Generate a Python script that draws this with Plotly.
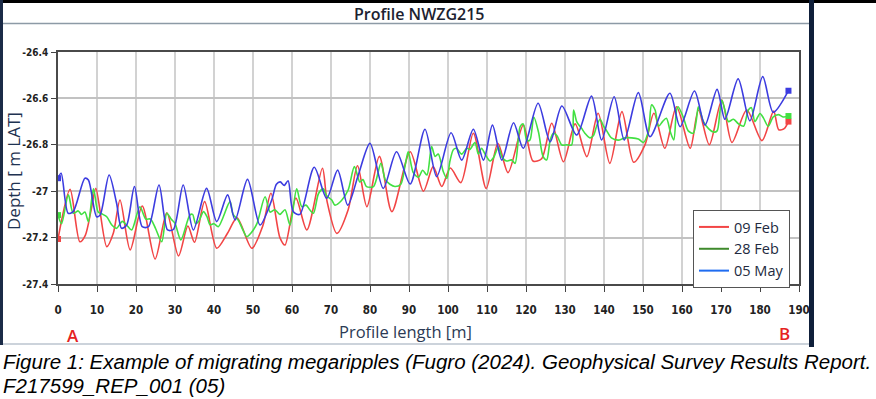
import plotly.graph_objects as go

# ---------------- data ----------------
blue_x = [0, 0.8, 2.6, 3.9, 6.9, 7.8, 9.9, 10.8, 13.1, 15.0, 16.3, 17.6, 19.6, 21.6, 23.2, 25.9, 28.1, 29.6,
          32.1, 34.7, 38.1, 40.7, 43.5, 45.4, 48.6, 51.8, 54.8, 56.0, 57.0, 58.0, 59.0, 60.3, 62.0, 65.7,
          68.9, 71.7, 74.3, 77.0, 80.0, 83.4, 86.8, 90.3, 94.1, 97.1, 100.8, 103.5, 106.5, 109.1, 111.4,
          113.8, 116.8, 119.3, 123.1, 126.2, 129.2, 133.0, 136.8, 139.4, 142.6, 145.2, 148.8, 151.8, 156.9,
          159.5, 163.2, 165.9, 169.0, 171.0, 174.4, 177.4, 180.7, 183.4, 187.3]
blue_y = [-26.944, -26.923, -27.095, -27.088, -26.944, -26.952, -27.110, -27.103, -26.930, -27.050, -27.160,
          -27.146, -26.980, -27.153, -27.153, -26.973, -27.167, -27.165, -26.973, -27.167, -26.988, -27.131,
          -27.016, -27.124, -26.949, -27.146, -27.038, -26.970, -26.960, -26.975, -26.955, -27.088, -27.100,
          -26.897, -27.031, -26.909, -27.060, -26.930, -26.794, -26.988, -26.830, -26.969, -26.733, -26.937,
          -26.748, -26.866, -26.733, -26.866, -26.715, -26.866, -26.705, -26.815, -26.621, -26.787, -26.633,
          -26.758, -26.590, -26.779, -26.593, -26.779, -26.575, -26.765, -26.578, -26.722, -26.568, -26.715,
          -26.561, -26.690, -26.516, -26.697, -26.506, -26.660, -26.567]

red_x = [0, 3.1, 5.6, 7.0, 8.5, 9.7, 12.5, 14.2, 15.9, 18.5, 21.6, 24.9, 27.9, 30.9, 33.3, 35.0, 37.6, 40.7,
         43.5, 45.9, 49.7, 52.5, 54.6, 56.9, 58.2, 61.0, 63.8, 67.8, 69.0, 71.5, 74.4, 76.8, 79.2, 82.4, 85.6,
         90.3, 93.7, 96.2, 98.4, 100.6, 103.3, 106.5, 109.8, 112.8, 115.4, 119.3, 121.8, 124.0, 126.6, 129.6,
         132.6, 135.6, 138.5, 141.5, 144.6, 147.6, 150.5, 152.8, 155.6, 158.6, 162.1, 164.2, 167.0, 170.2,
         172.8, 176.6, 180.5, 183.5, 184.8, 186.2, 187.3]
red_y = [-27.206, -26.992, -27.218, -27.190, -27.080, -26.988, -27.239, -27.180, -27.038, -27.253, -27.064,
         -27.292, -27.093, -27.279, -27.150, -27.220, -27.045, -27.246, -27.180, -27.115, -27.246, -27.150,
         -27.009, -27.200, -27.232, -27.030, -27.167, -26.901, -27.045, -27.182, -27.080, -26.890, -27.067,
         -26.850, -27.088, -26.830, -27.000, -26.894, -26.980, -26.900, -26.963, -26.750, -26.988, -26.794,
         -26.920, -26.715, -26.870, -26.860, -26.707, -26.873, -26.710, -26.851, -26.664, -26.880, -26.657,
         -26.875, -26.800, -26.664, -26.815, -26.636, -26.815, -26.650, -26.800, -26.607, -26.790, -26.650,
         -26.782, -26.655, -26.735, -26.730, -26.700]

green_x = [0, 0.9, 2.65, 3.9, 5.2, 6.0, 6.9, 7.8, 9.1, 10.3, 11.5, 12.5, 13.8, 15.0, 16.5, 17.8, 18.9, 21.0,
           22.5, 23.7, 25.0, 26.6, 27.9, 29.0, 30.0, 31.5, 33.8, 34.5, 35.3, 36.1, 37.3, 38.2, 39.0, 40.0,
           41.1, 44.1, 44.9, 46.2, 47.5, 48.4, 49.5, 51.0, 53.1, 54.4, 55.6, 56.9, 58.2, 59.5, 61.2, 62.5,
           63.6, 64.6, 65.5, 66.8, 68.0, 68.9, 70.2, 71.0, 72.7, 74.4, 76.0, 77.4, 78.2, 79.1, 80.9, 82.8,
           83.9, 85.1, 86.4, 87.9, 89.0, 89.8, 91.1, 92.4, 93.5, 94.6, 95.8, 96.7, 97.5, 98.8, 99.7, 100.5,
           101.4, 102.2, 103.5, 104.8, 105.6, 106.9, 107.8, 108.6, 109.5, 110.8, 111.7, 112.9, 113.9, 115.0,
           116.3, 117.2, 118.5, 119.3, 120.2, 121.0, 122.0, 123.2, 124.4, 125.3, 126.2, 127.0, 127.9, 129.2,
           130.4, 131.7, 132.2, 133.0, 133.8, 134.3, 135.1, 136.4, 137.3, 138.1, 139.0, 139.9, 140.7, 141.9,
           143.6, 145.4, 147.1, 148.8, 150.1, 151.4, 152.2, 153.1, 154.0, 155.0, 156.0, 157.0, 157.9, 158.6,
           159.0, 160.3, 161.6, 162.9, 163.7, 164.2, 165.5, 166.8, 168.1, 169.0, 169.7, 170.2, 171.0, 171.9,
           173.2, 174.5, 175.8, 177.0, 177.8, 178.7, 180.0, 180.9, 182.1, 183.4, 184.7, 186.0, 187.3]
green_y = [-27.103, -27.140, -27.016, -27.095, -27.085, -27.100, -27.090, -27.131, -26.990, -27.090, -27.100,
           -27.110, -27.146, -27.160, -27.130, -27.150, -27.167, -27.067, -27.120, -27.120, -27.160, -27.218,
           -27.095, -27.120, -27.139, -27.210, -27.103, -27.100, -27.140, -27.130, -27.088, -27.110, -27.145,
           -27.140, -27.153, -27.045, -27.100, -27.124, -27.170, -27.196, -27.180, -27.140, -27.024, -27.090,
           -27.080, -27.100, -27.080, -27.146, -26.990, -27.067, -27.060, -27.081, -27.095, -27.010, -26.990,
           -27.020, -27.038, -27.060, -27.040, -26.995, -26.894, -26.960, -26.950, -26.980, -26.980, -26.880,
           -26.950, -26.970, -26.980, -26.970, -26.890, -26.830, -26.920, -26.940, -26.910, -26.930, -26.808,
           -26.850, -26.840, -26.916, -26.945, -26.870, -26.820, -26.815, -26.840, -26.815, -26.820, -26.790,
           -26.840, -26.815, -26.840, -26.870, -26.855, -26.810, -26.855, -26.870, -26.865, -26.880, -26.722,
           -26.710, -26.780, -26.780, -26.680, -26.745, -26.851, -26.865, -26.780, -26.750, -26.760, -26.801,
           -26.800, -26.800, -26.650, -26.700, -26.720, -26.730, -26.750, -26.770, -26.760, -26.720, -26.690,
           -26.720, -26.740, -26.770, -26.780, -26.770, -26.770, -26.775, -26.790, -26.740, -26.628, -26.650,
           -26.720, -26.700, -26.686, -26.744, -26.779, -26.650, -26.636, -26.680, -26.740, -26.750, -26.690,
           -26.636, -26.700, -26.730, -26.745, -26.740, -26.660, -26.607, -26.650, -26.700, -26.690, -26.710,
           -26.720, -26.650, -26.640, -26.700, -26.665, -26.685, -26.720, -26.680, -26.670, -26.680, -26.676]

series_names = ["09 Feb", "28 Feb", "05 May"]
x_ticks = list(range(0, 200, 10))
y_ticks = [-26.4, -26.6, -26.8, -27.0, -27.2, -27.4]
y_tick_text = ["-26.4", "-26.6", "-26.8", "-27", "-27.2", "-27.4"]

# ---------------- layout geometry ----------------
W, H = 876, 399
L, R, T, B = 58, 77, 52, 115
PW, PH = W - L - R, H - T - B


def px(xp):
    return (xp - L) / PW


def py(yp):
    return (H - B - yp) / PH


line_cols = ["#f24545", "#42e042", "#3c3ce0"]
legend_cols = ["#f24545", "#3f8a2c", "#1f6cf0"]
data = [(red_x, red_y), (green_x, green_y), (blue_x, blue_y)]

fig = go.Figure()
for (xs, ys), c, name in zip(data, line_cols, series_names):
    fig.add_trace(go.Scatter(x=xs, y=ys, mode="lines", name=name, showlegend=False,
                             line=dict(color=c, width=1.6, shape="spline", smoothing=0.8)))
for (xs, ys), c in zip(data, line_cols):
    fig.add_trace(go.Scatter(x=[xs[0], xs[-1]], y=[ys[0], ys[-1]], mode="markers", showlegend=False,
                             marker=dict(color=c, size=6, symbol="square")))
for c, name in zip(legend_cols, series_names):
    fig.add_trace(go.Scatter(x=[None], y=[None], mode="lines", name=name,
                             line=dict(color=c, width=2)))

narrow = "Liberation Sans Narrow, Arial Narrow, DejaVu Sans Condensed, sans-serif"
x_tick_font = dict(family=narrow, size=11.5, color="#222222", weight="bold")
y_tick_font = dict(family=narrow, size=10, color="#222222", weight="bold")

fig.update_xaxes(range=[0, 190], tickvals=x_ticks, ticks="outside", ticklen=6, tickcolor="#444",
                 tickwidth=1.2, showline=True, linecolor="#4a4a4a", linewidth=1.5, mirror=True,
                 showgrid=True, gridcolor="#d2d2d2", gridwidth=1.5, zeroline=False,
                 tickfont=x_tick_font, ticklabelstandoff=8)
fig.update_yaxes(range=[-27.4, -26.4], tickvals=y_ticks, ticktext=y_tick_text, ticks="outside",
                 ticklen=5, tickcolor="#444", tickwidth=1.2, showline=True, linecolor="#4a4a4a",
                 linewidth=1.5, mirror=True, showgrid=True, gridcolor="#c2c2c2", gridwidth=2,
                 zeroline=False, tickfont=y_tick_font, ticklabelstandoff=1)

shapes = [
    dict(type="rect", xref="paper", yref="paper", x0=px(0), x1=px(W), y0=py(0), y1=py(3),
         fillcolor="#000000", line_width=0, layer="above"),
    dict(type="rect", xref="paper", yref="paper", x0=px(0), x1=px(3), y0=py(0), y1=py(345),
         fillcolor="#1b2b47", line_width=0, layer="above"),
    dict(type="rect", xref="paper", yref="paper", x0=px(809), x1=px(814), y0=py(0), y1=py(347),
         fillcolor="#0f1f3a", line_width=0, layer="above"),
    dict(type="line", xref="paper", yref="paper", x0=px(3), x1=px(809), y0=py(23.5), y1=py(23.5),
         line=dict(color="#8d9aa6", width=1.5)),
    dict(type="line", xref="paper", yref="paper", x0=px(3), x1=px(809), y0=py(344), y1=py(344),
         line=dict(color="#9aa8b8", width=1.2)),
]

txt_font = "Open Sans, Noto Sans, sans-serif"
cap_font = dict(family="Liberation Sans, Arial, sans-serif", size=20.5, color="#000000")
annotations = [
    dict(text="Profile NWZG215", x=px(419), y=py(14), xref="paper", yref="paper", showarrow=False,
         xanchor="center", yanchor="middle", font=dict(family=txt_font, size=16, color="#1c2230", weight=600)),
    dict(text="Depth [ m LAT]", x=px(13), y=py(171), xref="paper", yref="paper", showarrow=False,
         textangle=-90, xanchor="center", yanchor="middle", font=dict(family=txt_font, size=17, color="#1f3352")),
    dict(text="Profile length [m]", x=px(405), y=py(331), xref="paper", yref="paper", showarrow=False,
         xanchor="center", yanchor="middle", font=dict(family=txt_font, size=16.5, color="#2b3a55")),
    dict(text="A", x=px(73), y=py(335), xref="paper", yref="paper", showarrow=False,
         xanchor="center", yanchor="middle", font=dict(family=txt_font, size=17, color="#e52222", weight=600)),
    dict(text="B", x=px(784), y=py(333), xref="paper", yref="paper", showarrow=False,
         xanchor="center", yanchor="middle", font=dict(family=txt_font, size=17, color="#e52222", weight=600)),
    dict(text="<i>Figure 1: Example of migrating megaripples (Fugro (2024). Geophysical Survey Results Report.</i>",
         x=px(1), y=py(361), xref="paper", yref="paper", showarrow=False, xanchor="left", yanchor="middle",
         font=cap_font),
    dict(text="<i>F217599_REP_001 (05)</i>",
         x=px(1), y=py(385), xref="paper", yref="paper", showarrow=False, xanchor="left", yanchor="middle",
         font=cap_font),
]

fig.update_layout(
    width=W, height=H, margin=dict(l=L, r=R, t=T, b=B, autoexpand=False),
    paper_bgcolor="white", plot_bgcolor="white",
    shapes=shapes, annotations=annotations,
    legend=dict(x=px(693), y=py(210), xanchor="left", yanchor="top", bgcolor="white",
                bordercolor="#555", borderwidth=1, itemwidth=30, tracegroupgap=0,
                font=dict(family=txt_font, size=14.5, color="#222a40")),
)

fig.write_html("out.html", config={"displayModeBar": False},
               post_script="document.body.style.margin='0px';document.body.style.overflow='hidden';")
